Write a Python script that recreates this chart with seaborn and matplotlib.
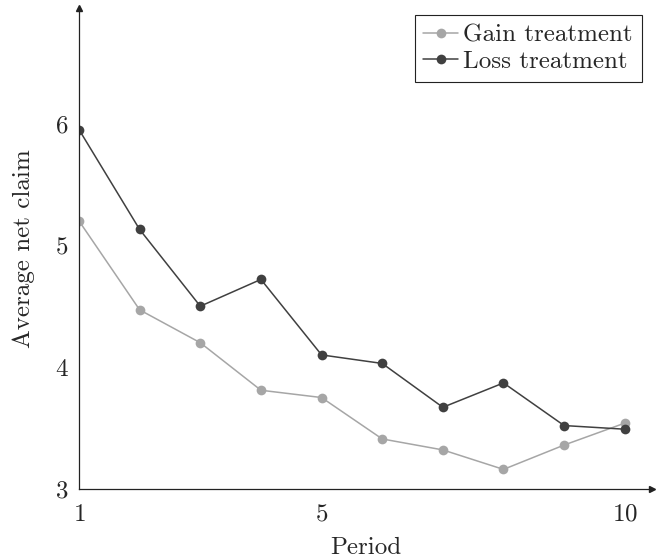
import pandas as pd
import matplotlib
matplotlib.use("Agg")
import matplotlib.pyplot as plt
import seaborn as sns

# values
periods = [1, 2, 3, 4, 5, 6, 7, 8, 9, 10]
gain = [5.20, 4.47, 4.20, 3.81, 3.75, 3.41, 3.32, 3.16, 3.36, 3.54]
loss = [5.95, 5.13, 4.50, 4.72, 4.10, 4.03, 3.67, 3.87, 3.52, 3.49]
series_names = ["Gain treatment", "Loss treatment"]
colors = ["#a6a6a6", "#404040"]
x_ticks = [1, 5, 10]
y_ticks = [3, 4, 5, 6]

df = pd.DataFrame({
    "Period": periods * 2,
    "claim": gain + loss,
    "treatment": [series_names[0]] * len(periods) + [series_names[1]] * len(periods),
})

sns.set_style("white")
plt.rcParams["font.family"] = ["cmr10", "DejaVu Serif"]
plt.rcParams["mathtext.fontset"] = "cm"
plt.rcParams["axes.formatter.use_mathtext"] = True

fig = plt.figure(figsize=(6.64, 5.60), dpi=100)
ax = fig.add_axes([0.119, 0.127, 0.863, 0.859])

sns.lineplot(data=df, x="Period", y="claim", hue="treatment", style="treatment",
             markers=["o", "o"], dashes=False, palette=colors,
             linewidth=1.1, markersize=7, markeredgewidth=0, ax=ax)

ax.set_xlim(1, 10.45)
ax.set_ylim(3, 6.95)
ax.set_xticks(x_ticks)
ax.set_yticks(y_ticks)
ax.tick_params(direction="inout", length=5, width=0.6, color="#666666", labelsize=18)
ax.tick_params(axis="x", pad=8)
ax.tick_params(axis="y", pad=5)
ax.set_xlabel("Period", fontsize=18, labelpad=8)
ax.set_ylabel("Average net claim", fontsize=18, labelpad=14)

sns.despine(ax=ax)
for side in ["left", "bottom"]:
    ax.spines[side].set_color("#222222")
    ax.spines[side].set_linewidth(0.9)
# axis arrows
ax.plot(1, 3, ">", color="#222222", ms=4, transform=ax.get_yaxis_transform(), clip_on=False)
ax.plot(1, 1, "^", color="#222222", ms=4, transform=ax.get_xaxis_transform(), clip_on=False)

handles, labels = ax.get_legend_handles_labels()
leg = ax.legend(handles, labels, loc="upper right", bbox_to_anchor=(0.995, 1.0),
                fontsize=18, frameon=True, fancybox=False, framealpha=1,
                edgecolor="#222222", handlelength=1.4, handletextpad=0.2,
                borderpad=0.35, labelspacing=0.15, borderaxespad=0.3)
leg.get_frame().set_linewidth(0.8)

fig.savefig("out.png", dpi=100)
